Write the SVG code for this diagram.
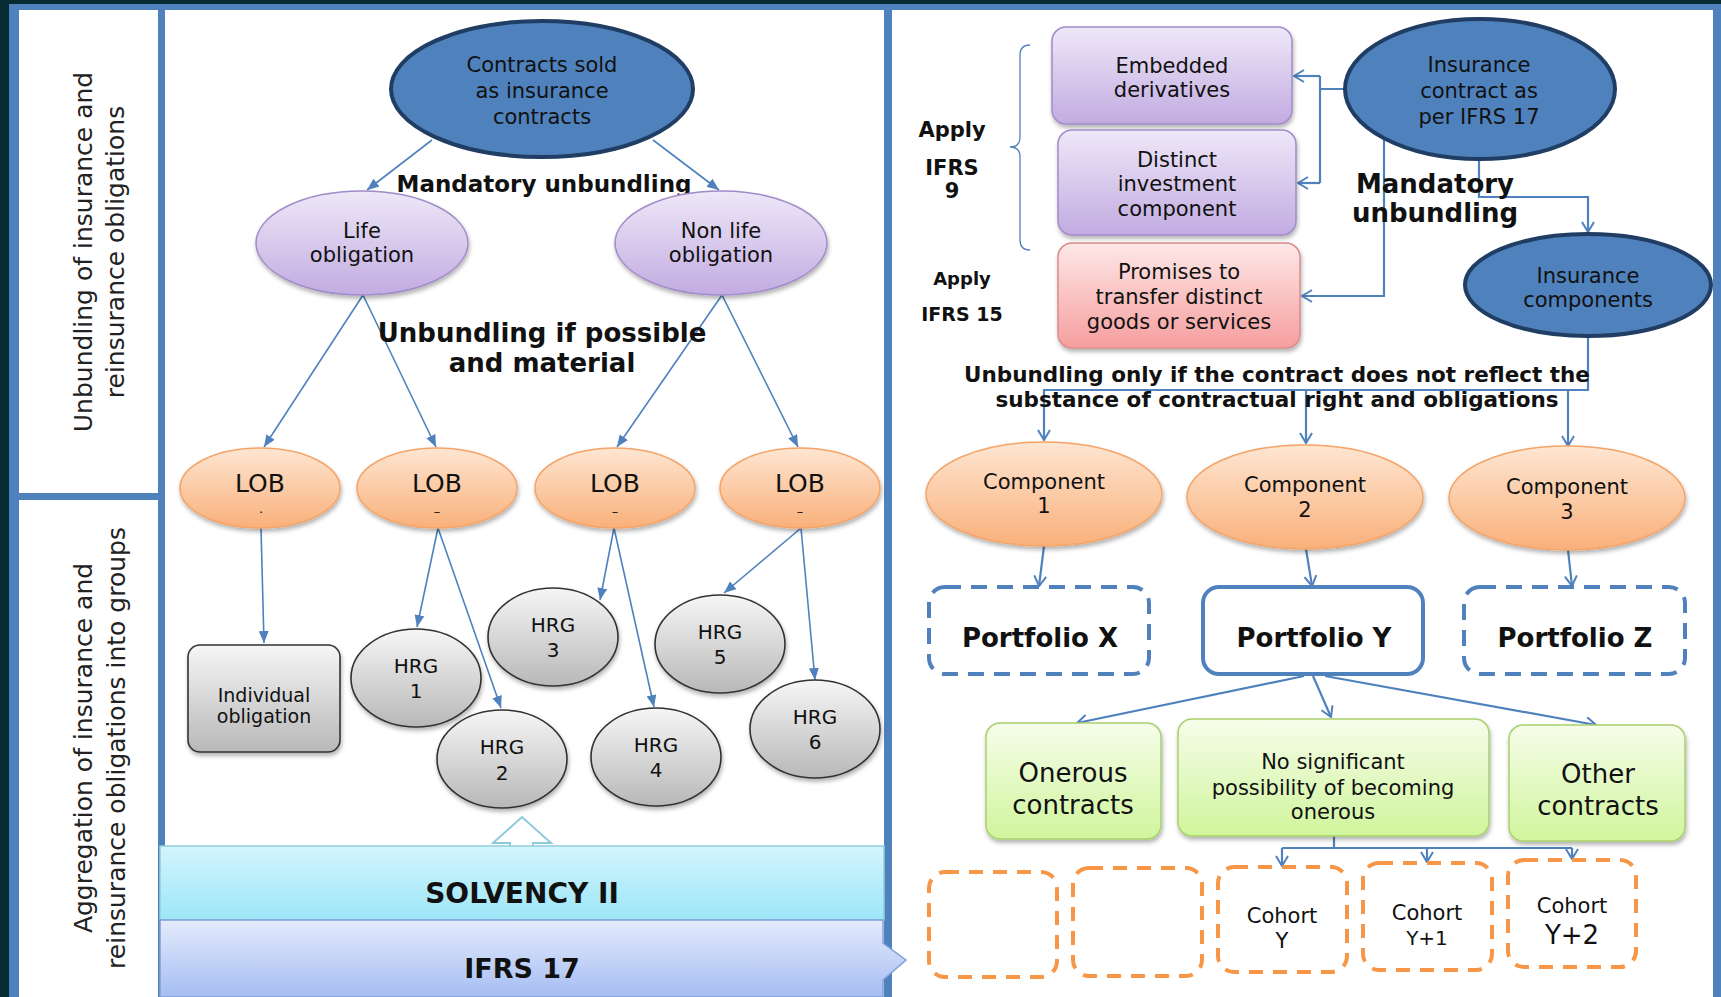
<svg xmlns="http://www.w3.org/2000/svg" width="1721" height="997" viewBox="0 0 1721 997">
<defs>
<style>
text{font-family:"DejaVu Sans",Verdana,sans-serif;fill:#111;text-anchor:middle;}
.b{font-weight:bold;}
.f21{font-size:21px;}
.f20{font-size:20px;}
.lab{font-size:25px;fill:#222;}
.mk{font-size:13px;}
.c1{fill:none;stroke:#4f81bd;stroke-width:1.6;marker-end:url(#ah);}
.c2{fill:none;stroke:#4f81bd;stroke-width:2.2;}
.c2a{fill:none;stroke:#4f81bd;stroke-width:2.2;marker-end:url(#oa);}
.blue{fill:#4f81bd;stroke:#203d64;stroke-width:4;}
.pur{fill:url(#gPur);stroke:#a08cc8;stroke-width:1.5;filter:url(#sh);}
.org{fill:url(#gOrg);stroke:#f4a468;stroke-width:1.5;filter:url(#sh);}
.gry{fill:url(#gGry);stroke:#333;stroke-width:1.6;filter:url(#sh);}
.red{fill:url(#gRed);stroke:#da8b8b;stroke-width:1.5;filter:url(#sh);}
.grn{fill:url(#gGrn);stroke:#a9d06e;stroke-width:1.5;filter:url(#sh);}
.pf{fill:#fff;stroke:#4f81bd;stroke-width:4;}
.dash{stroke-dasharray:16 10;}
.coh{fill:#fff;stroke:#f79646;stroke-width:4;stroke-dasharray:14 10;}
</style>
<linearGradient id="gPur" x1="0" y1="0" x2="0" y2="1"><stop offset="0" stop-color="#eee8f8"/><stop offset="1" stop-color="#c2abe1"/></linearGradient>
<linearGradient id="gOrg" x1="0" y1="0" x2="0" y2="1"><stop offset="0" stop-color="#fee6d2"/><stop offset="1" stop-color="#f9b07a"/></linearGradient>
<linearGradient id="gGry" x1="0" y1="0" x2="0" y2="1"><stop offset="0" stop-color="#f6f6f6"/><stop offset="1" stop-color="#b8b8b8"/></linearGradient>
<linearGradient id="gRed" x1="0" y1="0" x2="0" y2="1"><stop offset="0" stop-color="#fee8e8"/><stop offset="1" stop-color="#f69e9e"/></linearGradient>
<linearGradient id="gGrn" x1="0" y1="0" x2="0" y2="1"><stop offset="0" stop-color="#f6fdea"/><stop offset="1" stop-color="#d0f59c"/></linearGradient>
<linearGradient id="gCyan" x1="0" y1="0" x2="0" y2="1"><stop offset="0" stop-color="#d3f5fd"/><stop offset="1" stop-color="#9ce6f8"/></linearGradient>
<linearGradient id="gIfrs" x1="0" y1="0" x2="0" y2="1"><stop offset="0" stop-color="#e4ebfc"/><stop offset="1" stop-color="#a6bdf3"/></linearGradient>
<filter id="sh" x="-20%" y="-20%" width="140%" height="150%"><feDropShadow dx="1" dy="3" stdDeviation="2" flood-color="#000" flood-opacity="0.3"/></filter>
<marker id="ah" viewBox="0 0 12 10" refX="12" refY="5" markerWidth="12" markerHeight="10" markerUnits="userSpaceOnUse" orient="auto"><path d="M0,0 L12,5 L0,10 z" fill="#4f81bd"/></marker>
<marker id="oa" viewBox="0 0 12 14" refX="11" refY="7" markerWidth="12" markerHeight="14" markerUnits="userSpaceOnUse" orient="auto"><path d="M1,1 L11,7 L1,13" fill="none" stroke="#4f81bd" stroke-width="2"/></marker>
</defs>

<!-- frame -->
<g id="frame">
<rect x="0" y="0" width="1721" height="997" fill="#062b33"/>
<rect x="9" y="4" width="1712" height="993" fill="#4f81bd"/>
<rect x="19" y="10" width="139" height="483" fill="#fff"/>
<rect x="19" y="500" width="139" height="497" fill="#fff"/>
<rect x="165" y="10" width="719" height="987" fill="#fff"/>
<rect x="892" y="10" width="821" height="987" fill="#fff"/>
</g>

<g id="label-unbundling">
<text class="lab" transform="translate(92,252) rotate(-90)">Unbundling of insurance and</text>
<text class="lab" transform="translate(124,252) rotate(-90)">reinsurance obligations</text>
</g>
<g id="label-aggregation">
<text class="lab" transform="translate(92,748) rotate(-90)">Aggregation of insurance and</text>
<text class="lab" transform="translate(125,748) rotate(-90)">reinsurance obligations into groups</text>
</g>

<!-- connectors -->
<g id="connectors">
<path class="c1" d="M432,140 L367,190"/>
<path class="c1" d="M653,140 L719,190"/>
<path class="c1" d="M363,295 L264,447"/>
<path class="c1" d="M363,295 L436,447"/>
<path class="c1" d="M722,295 L617,447"/>
<path class="c1" d="M722,295 L798,447"/>
<path class="c1" d="M261,528 L264,643"/>
<path class="c1" d="M438,528 L417,627"/>
<path class="c1" d="M438,528 L501,708"/>
<path class="c1" d="M614,528 L600,600"/>
<path class="c1" d="M614,528 L654,707"/>
<path class="c1" d="M801,528 L724,593"/>
<path class="c1" d="M801,528 L815,680"/>

<path class="c2" d="M1346,89 H1320 M1320,76 V183"/>
<path class="c2a" d="M1320,76 H1294"/>
<path class="c2a" d="M1320,183 H1298"/>
<path class="c2a" d="M1384,140 V296 H1302"/>
<path class="c2a" d="M1479,160 V197 H1588 V232"/>
<path class="c2a" d="M1588,337 V390 H1044 V440"/>
<path class="c2a" d="M1306,390 V443"/>
<path class="c2a" d="M1568,390 V446"/>
<path class="c2a" d="M1044,546 L1039,586"/>
<path class="c2a" d="M1306,549 L1312,586"/>
<path class="c2a" d="M1568,550 L1572,586"/>
<path class="c2a" d="M1304,676 L1077,723"/>
<path class="c2a" d="M1313,676 L1331,717"/>
<path class="c2a" d="M1325,676 L1596,725"/>
<path class="c2" d="M1334,836 V848 M1282,848 H1572"/>
<path class="c2a" d="M1282,848 V866"/>
<path class="c2a" d="M1427,848 V862"/>
<path class="c2a" d="M1572,848 V859"/>
<path d="M1030,45 Q1020,45 1020,55 V137 Q1020,147 1010,147 Q1020,147 1020,157 V240 Q1020,250 1030,250" fill="none" stroke="#4f81bd" stroke-width="1.3"/>
</g>

<!-- middle panel -->
<g id="contracts-sold">
<ellipse class="blue" cx="542" cy="89" rx="151" ry="68"/>
<text class="f21" x="542" y="72">Contracts sold</text>
<text class="f21" x="542" y="98">as insurance</text>
<text class="f21" x="542" y="124">contracts</text>
</g>
<g id="mandatory-left"><text class="b" x="544" y="192" style="font-size:23px">Mandatory unbundling</text></g>
<g id="life">
<ellipse class="pur" cx="362" cy="243" rx="106" ry="52"/>
<text class="f21" x="362" y="238">Life</text>
<text class="f21" x="362" y="262">obligation</text>
</g>
<g id="nonlife">
<ellipse class="pur" cx="721" cy="243" rx="106" ry="52"/>
<text class="f21" x="721" y="238">Non life</text>
<text class="f21" x="721" y="262">obligation</text>
</g>
<g id="possible-label">
<text class="b" x="542" y="342" style="font-size:26px">Unbundling if possible</text>
<text class="b" x="542" y="372" style="font-size:26px">and material</text>
</g>
<g id="lob1"><ellipse class="org" cx="260" cy="488" rx="80" ry="40"/><text x="260" y="492" style="font-size:25px">LOB</text><text class="mk" x="261" y="513">.</text></g>
<g id="lob2"><ellipse class="org" cx="437" cy="488" rx="80" ry="40"/><text x="437" y="492" style="font-size:25px">LOB</text><text class="mk" x="437" y="516">–</text></g>
<g id="lob3"><ellipse class="org" cx="615" cy="488" rx="80" ry="40"/><text x="615" y="492" style="font-size:25px">LOB</text><text class="mk" x="615" y="516">–</text></g>
<g id="lob4"><ellipse class="org" cx="800" cy="488" rx="80" ry="40"/><text x="800" y="492" style="font-size:25px">LOB</text><text class="mk" x="800" y="516">–</text></g>
<g id="individual">
<rect class="gry" x="188" y="645" width="152" height="107" rx="12"/>
<text x="264" y="702" style="font-size:19px">Individual</text>
<text x="264" y="723" style="font-size:19px">obligation</text>
</g>
<g id="hrg1"><ellipse class="gry" cx="416" cy="678" rx="65" ry="49"/><text class="f20" x="416" y="673">HRG</text><text class="f20" x="416" y="698">1</text></g>
<g id="hrg2"><ellipse class="gry" cx="502" cy="759" rx="65" ry="49"/><text class="f20" x="502" y="754">HRG</text><text class="f20" x="502" y="780">2</text></g>
<g id="hrg3"><ellipse class="gry" cx="553" cy="637" rx="65" ry="49"/><text class="f20" x="553" y="632">HRG</text><text class="f20" x="553" y="657">3</text></g>
<g id="hrg4"><ellipse class="gry" cx="656" cy="757" rx="65" ry="49"/><text class="f20" x="656" y="752">HRG</text><text class="f20" x="656" y="777">4</text></g>
<g id="hrg5"><ellipse class="gry" cx="720" cy="644" rx="65" ry="49"/><text class="f20" x="720" y="639">HRG</text><text class="f20" x="720" y="664">5</text></g>
<g id="hrg6"><ellipse class="gry" cx="815" cy="729" rx="65" ry="49"/><text class="f20" x="815" y="724">HRG</text><text class="f20" x="815" y="749">6</text></g>

<g id="up-arrow"><polygon points="510,850 510,843 493,843 522,817 551,843 533,843 533,850" fill="#fff" stroke="#8ccbdc" stroke-width="2"/></g>
<g id="solvency">
<rect x="160" y="846" width="724" height="74" fill="url(#gCyan)" stroke="#93cddd" stroke-width="1.5"/>
<text class="b" x="522" y="903" style="font-size:28px">SOLVENCY II</text>
</g>
<g id="ifrs17">
<path d="M160,920 H883 V943 L906,960 L883,980 V997 H160 Z" fill="url(#gIfrs)" stroke="#7f9fd8" stroke-width="1.5"/>
<text class="b" x="522" y="978" style="font-size:27px">IFRS 17</text>
</g>

<!-- right panel -->
<g id="apply-ifrs9">
<text class="b f21" x="952" y="137">Apply</text>
<text class="b f21" x="952" y="175">IFRS</text>
<text class="b f21" x="952" y="198">9</text>
</g>
<g id="apply-ifrs15">
<text class="b" x="962" y="285" style="font-size:18px">Apply</text>
<text class="b" x="962" y="321" style="font-size:19px">IFRS 15</text>
</g>
<g id="embedded">
<rect class="pur" x="1052" y="27" width="240" height="97" rx="14"/>
<text class="f21" x="1172" y="73">Embedded</text>
<text class="f21" x="1172" y="97">derivatives</text>
</g>
<g id="distinct">
<rect class="pur" x="1058" y="130" width="238" height="105" rx="14"/>
<text class="f21" x="1177" y="167">Distinct</text>
<text class="f21" x="1177" y="191">investment</text>
<text class="f21" x="1177" y="216">component</text>
</g>
<g id="promises">
<rect class="red" x="1058" y="243" width="242" height="105" rx="14"/>
<text class="f21" x="1179" y="279">Promises to</text>
<text class="f21" x="1179" y="304">transfer distinct</text>
<text class="f21" x="1179" y="329">goods or services</text>
</g>
<g id="insurance-contract">
<ellipse class="blue" cx="1480" cy="89" rx="135" ry="70"/>
<text class="f21" x="1479" y="72">Insurance</text>
<text class="f21" x="1479" y="98">contract as</text>
<text class="f21" x="1479" y="124">per IFRS 17</text>
</g>
<g id="mandatory-right">
<text class="b" x="1435" y="193" style="font-size:26px">Mandatory</text>
<text class="b" x="1435" y="222" style="font-size:26px">unbundling</text>
</g>
<g id="insurance-components">
<ellipse class="blue" cx="1588" cy="285" rx="123" ry="51"/>
<text class="f21" x="1588" y="283">Insurance</text>
<text class="f21" x="1588" y="307">components</text>
</g>
<g id="unbundling-only">
<text class="b" x="1277" y="382" style="font-size:21.5px">Unbundling only if the contract does not reflect the</text>
<text class="b" x="1277" y="407" style="font-size:21.5px">substance of contractual right and obligations</text>
</g>
<g id="component1"><ellipse class="org" cx="1044" cy="494" rx="118" ry="52"/><text class="f21" x="1044" y="489">Component</text><text class="f21" x="1044" y="513">1</text></g>
<g id="component2"><ellipse class="org" cx="1305" cy="497" rx="118" ry="52"/><text class="f21" x="1305" y="492">Component</text><text class="f21" x="1305" y="517">2</text></g>
<g id="component3"><ellipse class="org" cx="1567" cy="498" rx="118" ry="52"/><text class="f21" x="1567" y="494">Component</text><text class="f21" x="1567" y="519">3</text></g>
<g id="portfolio-x"><rect class="pf dash" x="929" y="587" width="220" height="87" rx="16"/><text class="b" x="1040" y="647" style="font-size:26px">Portfolio X</text></g>
<g id="portfolio-y"><rect class="pf" x="1203" y="587" width="220" height="87" rx="16"/><text class="b" x="1314" y="647" style="font-size:26px">Portfolio Y</text></g>
<g id="portfolio-z"><rect class="pf dash" x="1464" y="587" width="221" height="87" rx="16"/><text class="b" x="1575" y="647" style="font-size:26px">Portfolio Z</text></g>
<g id="onerous"><rect class="grn" x="986" y="723" width="175" height="116" rx="14"/><text x="1073" y="782" style="font-size:26px">Onerous</text><text x="1073" y="814" style="font-size:26px">contracts</text></g>
<g id="no-significant"><rect class="grn" x="1178" y="719" width="311" height="117" rx="14"/><text class="f21" x="1333" y="769">No significant</text><text class="f21" x="1333" y="795">possibility of becoming</text><text class="f21" x="1333" y="819">onerous</text></g>
<g id="other"><rect class="grn" x="1509" y="725" width="176" height="116" rx="14"/><text x="1598" y="783" style="font-size:26px">Other</text><text x="1598" y="815" style="font-size:26px">contracts</text></g>
<g id="cohort-empty1"><rect class="coh" x="929" y="872" width="128" height="105" rx="16"/></g>
<g id="cohort-empty2"><rect class="coh" x="1073" y="868" width="129" height="108" rx="16"/></g>
<g id="cohort-y"><rect class="coh" x="1218" y="867" width="129" height="105" rx="16"/><text class="f21" x="1282" y="923">Cohort</text><text class="f21" x="1282" y="948">Y</text></g>
<g id="cohort-y1"><rect class="coh" x="1363" y="863" width="129" height="107" rx="16"/><text class="f21" x="1427" y="920">Cohort</text><text class="f20" x="1427" y="945">Y+1</text></g>
<g id="cohort-y2"><rect class="coh" x="1508" y="860" width="128" height="107" rx="16"/><text class="f21" x="1572" y="913">Cohort</text><text x="1572" y="944" style="font-size:26px">Y+2</text></g>
</svg>
